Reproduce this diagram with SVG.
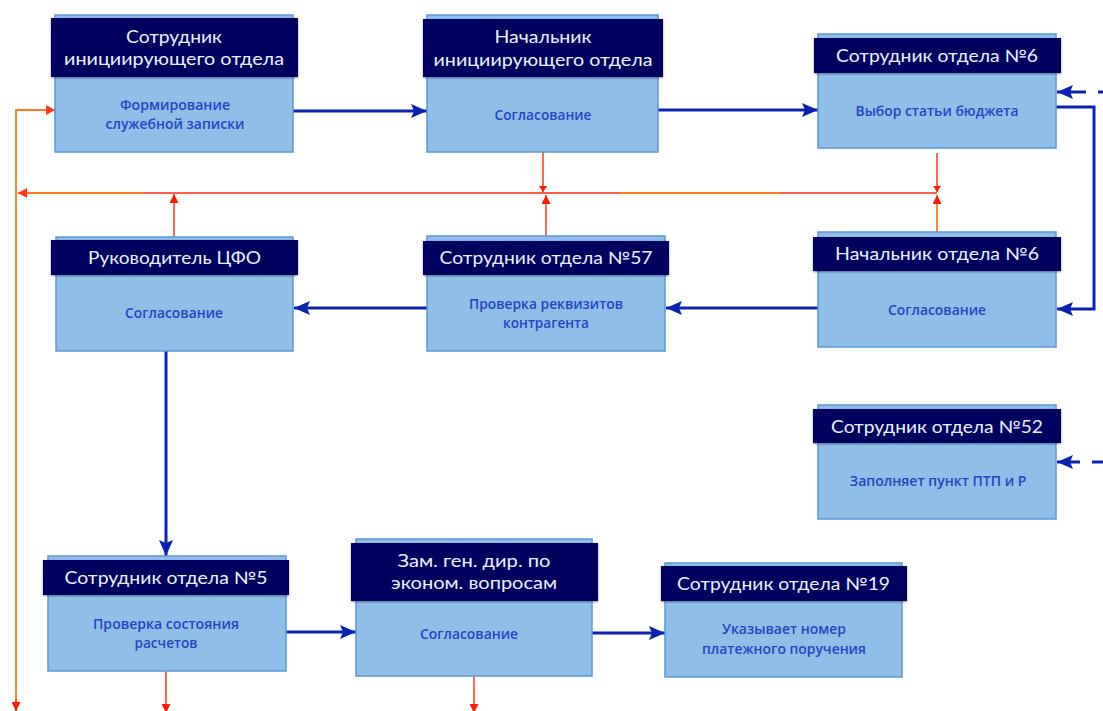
<svg xmlns="http://www.w3.org/2000/svg" width="1103" height="711" viewBox="0 0 1103 711">
  <style>
    .body { fill: #8FBEE9; stroke: #5B98D3; stroke-width: 1.5; }
    .head { fill: #03045E; filter: url(#shadow); }
    .ht { font-family: Lato, "Open Sans", "Liberation Sans", sans-serif; font-size: 17px; fill: #E9F2FF; text-anchor: middle; }
    .bt { font-family: "Open Sans", "Liberation Sans", sans-serif; font-size: 13.5px; font-weight: 600; fill: #2444C6; text-anchor: middle; }
    .flow { fill: none; stroke: #0A22B0; stroke-width: 3; }
    .ret { fill: none; stroke: #FF2A0A; stroke-width: 1.4; }
    .ret2 { fill: none; stroke: #FF7A1E; stroke-width: 1.8; }
  </style>
  <defs>
    <filter id="shadow" x="-5%" y="-20%" width="110%" height="140%">
      <feDropShadow dx="0" dy="1" stdDeviation="1.2" flood-color="#000030" flood-opacity="0.45"/>
    </filter>
    <marker id="blueArrow" markerUnits="userSpaceOnUse" markerWidth="16" markerHeight="14" refX="16" refY="7" orient="auto">
      <path d="M0,0 L16,7 L0,14 L3,7 z" fill="#0A22B0"/>
    </marker>
    <marker id="redArrow" markerUnits="userSpaceOnUse" markerWidth="9" markerHeight="9" refX="9" refY="4.5" orient="auto">
      <path d="M0,0 L9,4.5 L0,9 z" fill="#FF1A00"/>
    </marker>
    <marker id="redSmall" markerUnits="userSpaceOnUse" markerWidth="6" markerHeight="8" refX="6" refY="4" orient="auto">
      <path d="M0,0 L6,4 L0,8 z" fill="#FF1A00"/>
    </marker>
    <marker id="orangeArrow" markerUnits="userSpaceOnUse" markerWidth="9" markerHeight="10" refX="9" refY="5" orient="auto">
      <path d="M0,0 L9,5 L0,10 z" fill="#FF3A10"/>
    </marker>
  </defs>

  <!-- connectors -->
  <g id="connectors">
    <!-- main forward flow -->
    <path class="flow" d="M293,111 L427,111" marker-end="url(#blueArrow)"/>
    <path class="flow" d="M658,110 L818,110" marker-end="url(#blueArrow)"/>
    <path class="flow" d="M1056,107 L1094,107 L1094,309 L1057,309" marker-end="url(#blueArrow)"/>
    <path class="flow" d="M818,308 L666,308" marker-end="url(#blueArrow)"/>
    <path class="flow" d="M427,308 L294,308" marker-end="url(#blueArrow)"/>
    <path class="flow" d="M166,351 L166,556" marker-end="url(#blueArrow)"/>
    <path class="flow" d="M286,632 L356,632" marker-end="url(#blueArrow)"/>
    <path class="flow" d="M592,633 L665,633" marker-end="url(#blueArrow)"/>

    <!-- incoming dashed links -->
    <path class="flow" d="M1098,92 L1103,92"/>
    <path class="flow" d="M1086,92 L1057,92" marker-end="url(#blueArrow)"/>
    <path class="flow" d="M1092,462 L1103,462"/>
    <path class="flow" d="M1080,462 L1057,462" marker-end="url(#blueArrow)"/>

    <!-- return line back to the initiator -->
    <path class="ret" d="M937,193 L143,193"/>
    <path class="ret2" d="M780,193 L620,193"/>
    <path class="ret2" d="M143,193 L18,193" marker-end="url(#orangeArrow)"/>
    <path class="ret2" d="M16,711 L16,110 L55,110" marker-end="url(#orangeArrow)"/>
    <path class="ret" d="M16,699 L16,711" marker-end="url(#redArrow)"/>

    <!-- return branches -->
    <path class="ret" d="M543,152 L543,192" marker-end="url(#redSmall)"/>
    <path class="ret" d="M546,236 L546,195" marker-end="url(#redArrow)"/>
    <path class="ret" d="M937,153 L937,192" marker-end="url(#redSmall)"/>
    <path class="ret2" d="M937,232 L937,195" marker-end="url(#redArrow)"/>
    <path class="ret" d="M174,237 L174,194" marker-end="url(#redArrow)"/>
    <path class="ret" d="M166,671 L166,713" marker-end="url(#redArrow)"/>
    <path class="ret" d="M474,676 L474,713" marker-end="url(#redArrow)"/>
  </g>

  <!-- nodes -->
  <g id="node-initiator">
    <rect class="body" x="55" y="15" width="238" height="137"/>
    <rect class="head" x="51" y="18" width="247" height="59"/>
    <text class="ht" x="174" y="43" textLength="96" lengthAdjust="spacingAndGlyphs">Сотрудник</text>
    <text class="ht" x="174" y="65" textLength="220" lengthAdjust="spacingAndGlyphs">инициирующего отдела</text>
    <text class="bt" x="175" y="110" textLength="110" lengthAdjust="spacingAndGlyphs">Формирование</text>
    <text class="bt" x="175" y="129" textLength="139" lengthAdjust="spacingAndGlyphs">служебной записки</text>
  </g>

  <g id="node-head-initiator">
    <rect class="body" x="427" y="15" width="231" height="137"/>
    <rect class="head" x="423" y="19" width="240" height="58"/>
    <text class="ht" x="543" y="43" textLength="97" lengthAdjust="spacingAndGlyphs">Начальник</text>
    <text class="ht" x="543" y="66" textLength="219" lengthAdjust="spacingAndGlyphs">инициирующего отдела</text>
    <text class="bt" x="543" y="120" textLength="97" lengthAdjust="spacingAndGlyphs">Согласование</text>
  </g>

  <g id="node-dept6">
    <rect class="body" x="818" y="34" width="238" height="114"/>
    <rect class="head" x="814" y="38" width="247" height="35"/>
    <text class="ht" x="937" y="62" textLength="202" lengthAdjust="spacingAndGlyphs">Сотрудник отдела №6</text>
    <text class="bt" x="937" y="116" textLength="163" lengthAdjust="spacingAndGlyphs">Выбор статьи бюджета</text>
  </g>

  <g id="node-head-dept6">
    <rect class="body" x="818" y="232" width="238" height="115"/>
    <rect class="head" x="813" y="237" width="248" height="34"/>
    <text class="ht" x="937" y="260" textLength="204" lengthAdjust="spacingAndGlyphs">Начальник отдела №6</text>
    <text class="bt" x="937" y="315" textLength="98" lengthAdjust="spacingAndGlyphs">Согласование</text>
  </g>

  <g id="node-dept57">
    <rect class="body" x="427" y="236" width="238" height="115"/>
    <rect class="head" x="423" y="241" width="246" height="34"/>
    <text class="ht" x="546" y="264" textLength="213" lengthAdjust="spacingAndGlyphs">Сотрудник отдела №57</text>
    <text class="bt" x="546" y="309" textLength="154" lengthAdjust="spacingAndGlyphs">Проверка реквизитов</text>
    <text class="bt" x="546" y="328" textLength="86" lengthAdjust="spacingAndGlyphs">контрагента</text>
  </g>

  <g id="node-cfo">
    <rect class="body" x="56" y="237" width="237" height="114"/>
    <rect class="head" x="51" y="240" width="247" height="35"/>
    <text class="ht" x="174.5" y="264" textLength="173" lengthAdjust="spacingAndGlyphs">Руководитель ЦФО</text>
    <text class="bt" x="174" y="318" textLength="98" lengthAdjust="spacingAndGlyphs">Согласование</text>
  </g>

  <g id="node-dept52">
    <rect class="body" x="818" y="405" width="238" height="114"/>
    <rect class="head" x="813" y="409" width="248" height="34"/>
    <text class="ht" x="937" y="433" textLength="212" lengthAdjust="spacingAndGlyphs">Сотрудник отдела №52</text>
    <text class="bt" x="938" y="486" textLength="177" lengthAdjust="spacingAndGlyphs">Заполняет пункт ПТП и Р</text>
  </g>

  <g id="node-dept5">
    <rect class="body" x="48" y="556" width="238" height="115"/>
    <rect class="head" x="43" y="560" width="246" height="35"/>
    <text class="ht" x="166" y="584" textLength="203" lengthAdjust="spacingAndGlyphs">Сотрудник отдела №5</text>
    <text class="bt" x="166" y="629" textLength="146" lengthAdjust="spacingAndGlyphs">Проверка состояния</text>
    <text class="bt" x="166" y="648" textLength="63" lengthAdjust="spacingAndGlyphs">расчетов</text>
  </g>

  <g id="node-deputy">
    <rect class="body" x="356" y="539" width="236" height="137"/>
    <rect class="head" x="351" y="543" width="247" height="58"/>
    <text class="ht" x="474" y="567" textLength="153" lengthAdjust="spacingAndGlyphs">Зам. ген. дир. по</text>
    <text class="ht" x="474" y="589" textLength="166" lengthAdjust="spacingAndGlyphs">эконом. вопросам</text>
    <text class="bt" x="469" y="639" textLength="98" lengthAdjust="spacingAndGlyphs">Согласование</text>
  </g>

  <g id="node-dept19">
    <rect class="body" x="665" y="563" width="237" height="114"/>
    <rect class="head" x="661" y="566" width="246" height="35"/>
    <text class="ht" x="783.5" y="590" textLength="213" lengthAdjust="spacingAndGlyphs">Сотрудник отдела №19</text>
    <text class="bt" x="784" y="634" textLength="124" lengthAdjust="spacingAndGlyphs">Указывает номер</text>
    <text class="bt" x="784" y="654" textLength="164" lengthAdjust="spacingAndGlyphs">платежного поручения</text>
  </g>
</svg>
